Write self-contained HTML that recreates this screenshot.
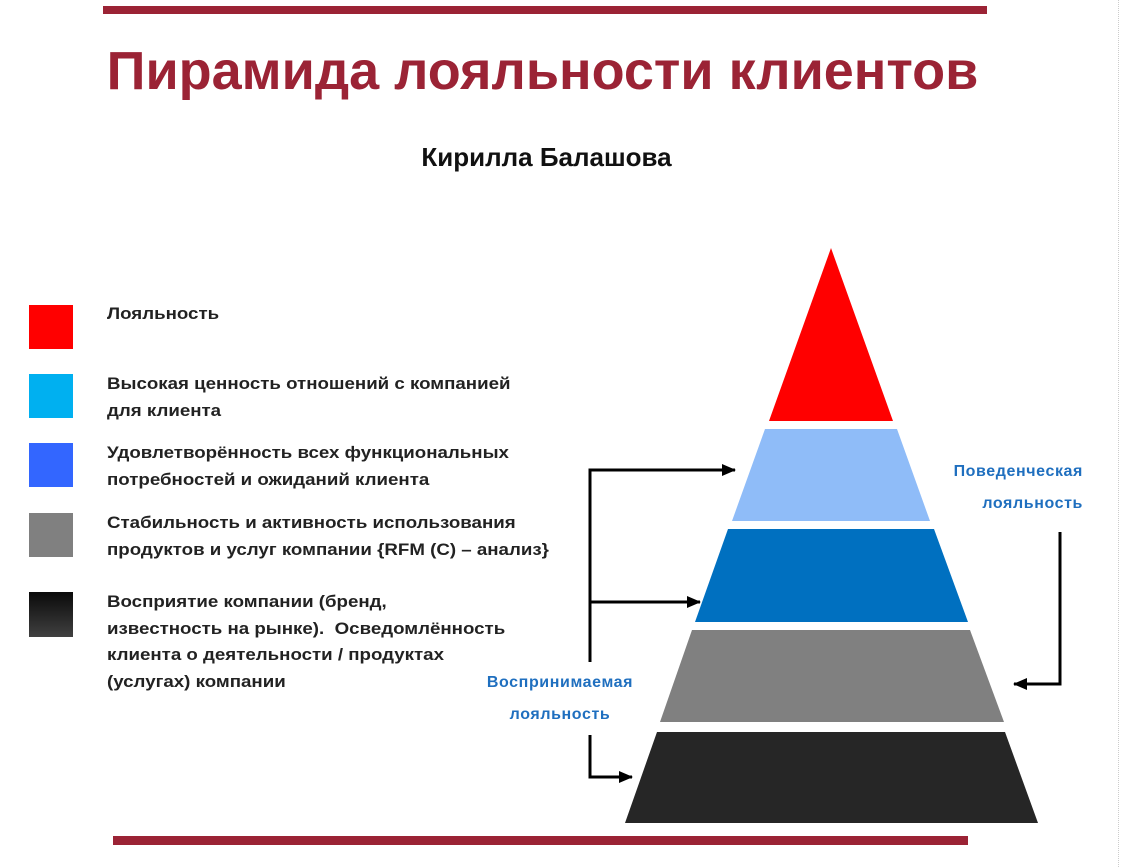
<!DOCTYPE html>
<html><head><meta charset="utf-8"><style>
body{margin:0;width:1125px;height:867px;background:#fff;position:relative;overflow:hidden;font-family:"Liberation Sans","DejaVu Sans",sans-serif;}
.t{position:absolute;font-weight:bold;white-space:nowrap;}
.lg{position:absolute;left:107px;font-size:17px;font-weight:bold;color:#222;line-height:26.5px;white-space:nowrap;transform:scaleX(1.1);transform-origin:0 0;}
.sq{position:absolute;left:29px;width:44px;height:44px;}
</style></head><body>
<div style="position:absolute;left:103px;top:6px;width:884px;height:8px;background:#9b2335"></div>
<div style="position:absolute;left:113px;top:836px;width:855px;height:9px;background:#9b2335"></div>
<div style="position:absolute;left:1118px;top:0;height:867px;border-left:1px dotted #ccc"></div>
<div class="t" style="left:0;width:1085px;text-align:center;top:40px;font-size:54px;color:#9b2335">Пирамида лояльности клиентов</div>
<div class="t" style="left:0;width:1093px;text-align:center;top:142px;font-size:26px;color:#111">Кирилла Балашова</div>

<div class="sq" style="top:305px;background:#ff0000"></div>
<div class="sq" style="top:374px;background:#00b0f0"></div>
<div class="sq" style="top:443px;background:#3366ff"></div>
<div class="sq" style="top:513px;background:#808080"></div>
<div class="sq" style="top:592px;height:45px;background:linear-gradient(#0a0a0a,#404040)"></div>

<div class="lg" style="top:301px">Лояльность</div>
<div class="lg" style="top:371px">Высокая ценность отношений с компанией<br>для клиента</div>
<div class="lg" style="top:440px">Удовлетворённость всех функциональных<br>потребностей и ожиданий клиента</div>
<div class="lg" style="top:510px">Стабильность и активность использования<br>продуктов и услуг компании {RFM (C) – анализ}</div>
<div class="lg" style="top:589px">Восприятие компании (бренд,<br>известность на рынке).&nbsp; Осведомлённость<br>клиента о деятельности / продуктах<br>(услугах) компании</div>

<svg width="1125" height="867" style="position:absolute;left:0;top:0">
<defs><marker id="a" markerWidth="14" markerHeight="14" refX="13" refY="7" orient="auto" markerUnits="userSpaceOnUse"><path d="M0,1 L14,7 L0,13 Z" fill="#000"/></marker></defs>
<polygon points="831,248 893,421 769,421" fill="#ff0000"/>
<polygon points="765,429 897,429 930,521 732,521" fill="#8fbcf8"/>
<polygon points="728,529 934,529 968,622 695,622" fill="#0070c0"/>
<polygon points="692,630 970,630 1004,722 660,722" fill="#808080"/>
<polygon points="657,732 1005,732 1038,823 625,823" fill="#262626"/>
<g stroke="#000" stroke-width="3" fill="none">
<polyline points="590,662 590,470 735,470" marker-end="url(#a)"/>
<polyline points="590,602 700,602" marker-end="url(#a)"/>
<polyline points="590,735 590,777 632,777" marker-end="url(#a)"/>
<polyline points="1060,532 1060,684 1014,684" marker-end="url(#a)"/>
</g>
</svg>
<div class="t" style="left:460px;width:200px;text-align:center;top:667px;font-size:16px;letter-spacing:0.6px;color:#1f6fbf;line-height:32px">Воспринимаемая<br>лояльность</div>
<div class="t" style="left:883px;width:200px;text-align:right;top:456px;font-size:16px;letter-spacing:0.6px;color:#1f6fbf;line-height:32px">Поведенческая<br>лояльность</div>
</body></html>
